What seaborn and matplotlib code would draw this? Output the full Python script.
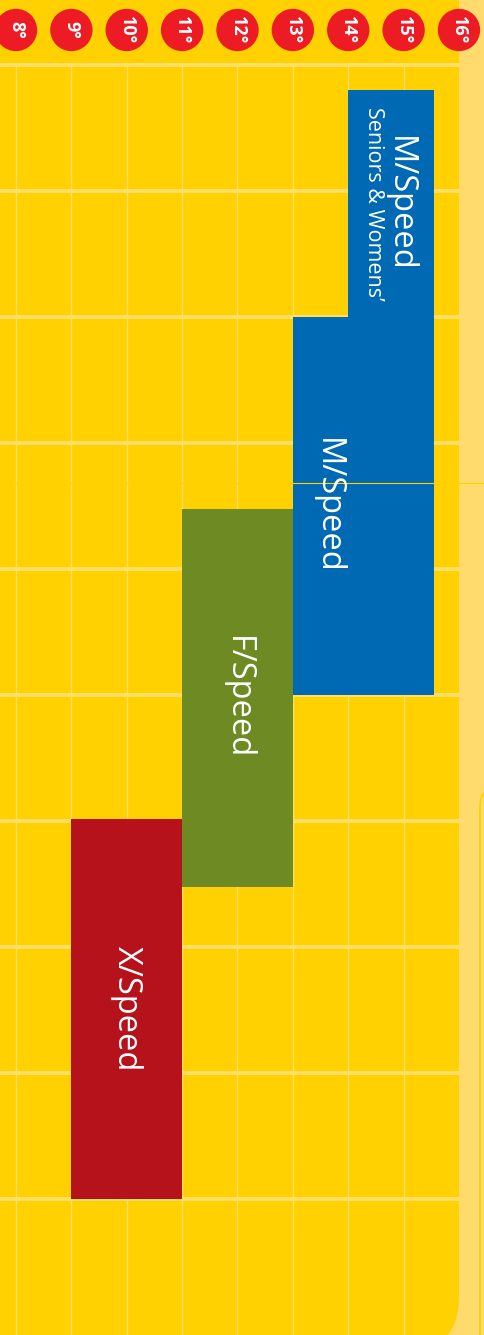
import matplotlib
matplotlib.use("Agg")
import matplotlib.pyplot as plt
from matplotlib.patches import FancyBboxPatch
import seaborn as sns

# hours across the top, rows down the page
hours = [8, 9, 10, 11, 12, 13, 14, 15, 16]
hour_labels = ["8°", "9°", "10°", "11°", "12°", "13°", "14°", "15°", "16°"]
rows = [0, 1, 2, 3, 4, 5, 6, 7, 8, 9]

# classes
programs = ["M/Speed", "M/Speed", "F/Speed", "X/Speed"]
subtitles = ["Seniors & Womens’", "", "", ""]
start_hour = [14.0, 13.0, 11.0, 9.0]
end_hour = [15.55, 15.55, 13.0, 11.0]
row_start = [0.2, 2.0, 3.52, 5.98]
row_end = [2.0, 5.0, 6.52, 9.0]

bar_colors = ["#0069B4", "#0069B4", "#6E8B23", "#B5121B"]
YELLOW = "#FFD100"
STRIP = "#FFDB6E"
GRID = "#FFDF66"
RED = "#ED1C24"

sns.set_theme(style="white")
plt.rcParams["font.family"] = ["Open Sans", "DejaVu Sans"]

fig = plt.figure(figsize=(4.85, 13.35), dpi=100)
fig.patch.set_facecolor(STRIP)
ax = fig.add_axes([0, 0, 1, 1])
ax.set_facecolor("none")

# background panels (inch units so corners stay round)
panel = FancyBboxPatch((-1, -0.15), 5.59, 15, boxstyle="round,pad=0,rounding_size=0.53",
                       transform=fig.dpi_scale_trans, fc=YELLOW, ec="none", zorder=-2)
fig.add_artist(panel)
side = FancyBboxPatch((4.80, -1), 2, 6.48, boxstyle="round,pad=0,rounding_size=0.2",
                      transform=fig.dpi_scale_trans, fc=STRIP, ec=YELLOW, lw=1.3, zorder=-1)
fig.add_artist(side)

# grid
ax.vlines(hours[:-1], 0.0, 10.3, color=GRID, lw=1.0, zorder=1)
ax.hlines(rows, 7.5, 16.0, color=GRID, lw=2.9, zorder=1)

# class blocks
widths = [e - s for s, e in zip(start_hour, end_hour)]
heights = [e - s for s, e in zip(row_start, row_end)]
ax.bar(start_hour, heights, width=widths, bottom=row_start, align="edge",
       color=bar_colors, edgecolor="none", zorder=2)
ax.axhline(3.317, xmin=0, xmax=1, color=YELLOW, lw=0.8, zorder=3)

for i, name in enumerate(programs):
    cx = (start_hour[i] + end_hour[i]) / 2
    cy = (row_start[i] + row_end[i]) / 2
    if subtitles[i]:
        ax.text(cx + 0.15, cy, name, rotation=270, color="white", fontsize=23.5,
                ha="center", va="center", zorder=4)
        ax.text(cx - 0.31, cy, subtitles[i], rotation=270, color="white", fontsize=15.5,
                ha="center", va="center", zorder=4)
    else:
        if i == 1:
            cx = start_hour[i] + 0.62
        ax.text(cx, cy, name, rotation=270, color="white", fontsize=23.5,
                ha="center", va="center", zorder=4)

# hour badges
sns.scatterplot(x=hours, y=[-0.278] * len(hours), s=930, color=RED, edgecolor="none",
                ax=ax, zorder=5, legend=False)
for h, lab in zip(hours, hour_labels):
    ax.text(h, -0.278, lab, rotation=270, color="white", fontsize=13,
            fontweight="bold", ha="center", va="center", zorder=6)

ax.set_xlim(7.711, 16.470)
ax.set_ylim(10.079, -0.516)
ax.set_axis_off()

fig.savefig("out.png", dpi=100, facecolor=STRIP)
